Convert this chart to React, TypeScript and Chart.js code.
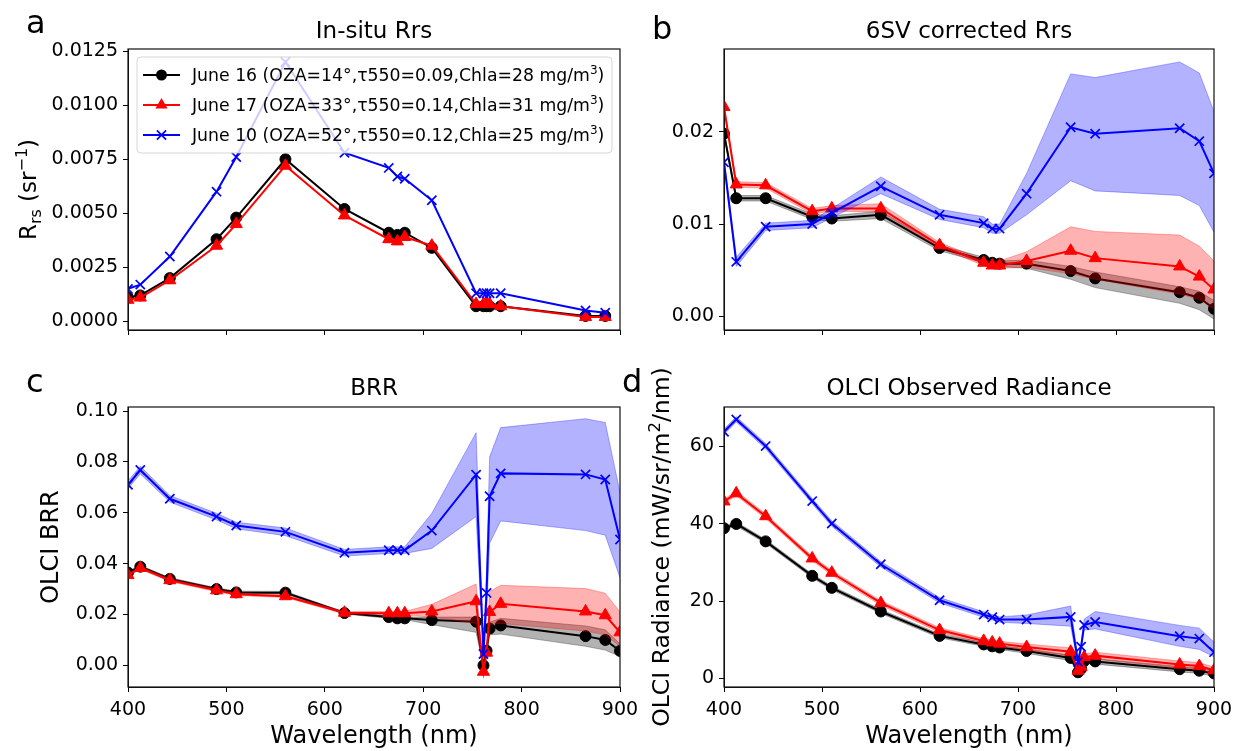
import React, { useEffect, useRef } from 'react';
import { Chart, registerables } from 'chart.js';

Chart.register(...registerables);

const FONT = "'DejaVu Sans', sans-serif";

// ---------- wavelengths (nm) ----------
const WL_INSITU = [400, 412.5, 442.5, 490, 510, 560, 620, 665, 673.75, 681.25, 708.75, 753.75, 761.25, 764.375, 767.5, 778.75, 865, 885];
const WL_6SV = [400, 412.5, 442.5, 490, 510, 560, 620, 665, 673.75, 681.25, 708.75, 753.75, 778.75, 865, 885, 900];
const WL_OLCI = [400, 412.5, 442.5, 490, 510, 560, 620, 665, 673.75, 681.25, 708.75, 753.75, 761.25, 764.375, 767.5, 778.75, 865, 885, 900];

const X_TICKS = [400, 500, 600, 700, 800, 900];

// ---------- legend labels ----------
const LEGEND_LABELS = [
  ['June 16 (OZA=14°,τ550=0.09,Chla=28 mg/m', '3', ')'],
  ['June 17 (OZA=33°,τ550=0.14,Chla=31 mg/m', '3', ')'],
  ['June 10 (OZA=52°,τ550=0.12,Chla=25 mg/m', '3', ')'],
];

// ---------- (a) in-situ Rrs ----------
const insitu16 = [0.0011, 0.0012, 0.0020, 0.0038, 0.0048, 0.0075, 0.0052, 0.0041, 0.0040, 0.0041, 0.0034, 0.0007, 0.0007, 0.0007, 0.0007, 0.0007, 0.00025, 0.00025];
const insitu17 = [0.0010, 0.0011, 0.0019, 0.0035, 0.0045, 0.0072, 0.0049, 0.0038, 0.0037, 0.0039, 0.0035, 0.0008, 0.0008, 0.0008, 0.0008, 0.0007, 0.0002, 0.0002];
const insitu10 = [0.0015, 0.0017, 0.0030, 0.0060, 0.0076, 0.0120, 0.0078, 0.0071, 0.0067, 0.0066, 0.0056, 0.0013, 0.0013, 0.0013, 0.0013, 0.0013, 0.0005, 0.0004];

// ---------- (b) 6SV corrected Rrs ----------
const sv16 = [0.0198, 0.0128, 0.0128, 0.0108, 0.0106, 0.0110, 0.0074, 0.0061, 0.0058, 0.0057, 0.0057, 0.0049, 0.0041, 0.0026, 0.0020, 0.0008];
const sv16lo = [0.0195, 0.0125, 0.0125, 0.0105, 0.0103, 0.0106, 0.0071, 0.0058, 0.0055, 0.0054, 0.0052, 0.0040, 0.0031, 0.0014, 0.0007, -0.0003];
const sv16hi = [0.0201, 0.0131, 0.0131, 0.0111, 0.0109, 0.0114, 0.0077, 0.0064, 0.0061, 0.0060, 0.0061, 0.0054, 0.0048, 0.0032, 0.0027, 0.0017];
const sv17 = [0.0227, 0.0143, 0.0142, 0.0114, 0.0117, 0.0117, 0.0077, 0.0058, 0.0055, 0.0055, 0.0060, 0.0071, 0.0063, 0.0054, 0.0043, 0.0029];
const sv17lo = [0.0224, 0.0140, 0.0139, 0.0111, 0.0114, 0.0113, 0.0074, 0.0055, 0.0052, 0.0052, 0.0053, 0.0046, 0.0040, 0.0024, 0.0018, 0.0008];
const sv17hi = [0.0230, 0.0146, 0.0145, 0.0117, 0.0120, 0.0122, 0.0080, 0.0061, 0.0058, 0.0060, 0.0070, 0.0097, 0.0092, 0.0088, 0.0076, 0.0060];
const sv10 = [0.0167, 0.0059, 0.0097, 0.0100, 0.0112, 0.0141, 0.0110, 0.0101, 0.0095, 0.0095, 0.0133, 0.0205, 0.0198, 0.0204, 0.0190, 0.0155];
const sv10lo = [0.0162, 0.0054, 0.0093, 0.0096, 0.0107, 0.0133, 0.0105, 0.0096, 0.0090, 0.0090, 0.0110, 0.0147, 0.0136, 0.0131, 0.0120, 0.0091];
const sv10hi = [0.0172, 0.0064, 0.0101, 0.0104, 0.0117, 0.0151, 0.0116, 0.0108, 0.0100, 0.0100, 0.0155, 0.0263, 0.0259, 0.0276, 0.0264, 0.0222];

// ---------- (c) BRR ----------
const brr16 = [0.0365, 0.0388, 0.0340, 0.0300, 0.0287, 0.0286, 0.0206, 0.0190, 0.0185, 0.0185, 0.0178, 0.0172, 0.0000, 0.0058, 0.0145, 0.0157, 0.0115, 0.0100, 0.0057];
const brr16lo = [0.0360, 0.0383, 0.0335, 0.0295, 0.0282, 0.0281, 0.0202, 0.0185, 0.0180, 0.0180, 0.0160, 0.0130, -0.0005, 0.0050, 0.0120, 0.0123, 0.0075, 0.0060, 0.0035];
const brr16hi = [0.0370, 0.0393, 0.0345, 0.0305, 0.0292, 0.0291, 0.0210, 0.0195, 0.0190, 0.0190, 0.0190, 0.0190, 0.0005, 0.0066, 0.0170, 0.0185, 0.0155, 0.0140, 0.0085];
const brr17 = [0.0355, 0.0383, 0.0335, 0.0295, 0.0280, 0.0272, 0.0207, 0.0205, 0.0205, 0.0205, 0.0212, 0.0252, -0.0025, 0.0050, 0.0210, 0.0242, 0.0212, 0.0197, 0.0130];
const brr17lo = [0.0350, 0.0378, 0.0330, 0.0290, 0.0275, 0.0267, 0.0202, 0.0198, 0.0198, 0.0198, 0.0190, 0.0165, -0.0030, 0.0043, 0.0160, 0.0165, 0.0135, 0.0120, 0.0075];
const brr17hi = [0.0360, 0.0388, 0.0340, 0.0300, 0.0285, 0.0277, 0.0212, 0.0212, 0.0212, 0.0212, 0.0240, 0.0320, -0.0020, 0.0057, 0.0290, 0.0315, 0.0302, 0.0284, 0.0210];
const brr10 = [0.0710, 0.0768, 0.0655, 0.0585, 0.0550, 0.0525, 0.0443, 0.0453, 0.0453, 0.0453, 0.0530, 0.0750, 0.0045, 0.0285, 0.0665, 0.0755, 0.0751, 0.0731, 0.0495];
const brr10lo = [0.0695, 0.0753, 0.0642, 0.0572, 0.0537, 0.0510, 0.0430, 0.0440, 0.0440, 0.0440, 0.0460, 0.0585, 0.0030, 0.0200, 0.0480, 0.0568, 0.0530, 0.0512, 0.0345];
const brr10hi = [0.0725, 0.0783, 0.0668, 0.0598, 0.0563, 0.0540, 0.0456, 0.0466, 0.0466, 0.0466, 0.0598, 0.0915, 0.0060, 0.0370, 0.0820, 0.0935, 0.0970, 0.0955, 0.0680];

// ---------- (d) OLCI observed radiance ----------
const rad16 = [38.8, 39.9, 35.4, 26.5, 23.4, 17.3, 11.0, 8.8, 8.3, 8.0, 7.1, 5.3, 1.6, 2.5, 4.5, 4.4, 2.4, 2.0, 1.3];
const rad16lo = [38.3, 39.4, 34.9, 26.0, 22.9, 16.8, 10.5, 8.3, 7.8, 7.5, 6.5, 4.6, 1.2, 2.0, 3.9, 3.7, 1.7, 1.3, 0.6];
const rad16hi = [39.3, 40.4, 35.9, 27.0, 23.9, 17.8, 11.5, 9.3, 8.8, 8.5, 7.7, 6.0, 2.0, 3.0, 5.1, 5.1, 3.1, 2.7, 2.0];
const rad17 = [45.7, 47.8, 41.9, 31.0, 27.3, 19.5, 12.5, 9.7, 9.3, 9.0, 8.1, 6.9, 2.0, 3.0, 5.5, 5.9, 3.6, 3.2, 2.1];
const rad17lo = [45.1, 47.2, 41.3, 30.4, 26.7, 18.9, 11.9, 9.1, 8.7, 8.4, 7.3, 5.9, 1.5, 2.4, 4.7, 5.0, 2.7, 2.3, 1.3];
const rad17hi = [46.3, 48.4, 42.5, 31.6, 27.9, 20.1, 13.1, 10.3, 9.9, 9.6, 8.9, 7.9, 2.5, 3.6, 6.3, 6.8, 4.5, 4.1, 2.9];
const rad10 = [63.7, 66.9, 60.0, 45.8, 40.0, 29.5, 20.2, 16.5, 15.8, 15.2, 15.2, 15.9, 4.3, 8.2, 13.8, 14.6, 10.9, 10.3, 6.8];
const rad10lo = [63.0, 66.2, 59.3, 45.1, 39.3, 28.8, 19.5, 15.8, 15.1, 14.5, 14.2, 13.5, 3.6, 7.4, 12.5, 12.8, 8.3, 7.5, 5.6];
const rad10hi = [64.4, 67.6, 60.7, 46.5, 40.7, 30.2, 20.9, 17.2, 16.5, 15.9, 16.4, 18.7, 5.0, 9.0, 15.3, 17.3, 13.7, 13.0, 9.4];

// ---------- styling ----------
const BLACK = '#000000';
const RED = '#ff0000';
const BLUE = '#0000ff';
const BLACK_BAND = 'rgba(0,0,0,0.3)';
const RED_BAND = 'rgba(255,0,0,0.3)';
const BLUE_BAND = 'rgba(0,0,255,0.3)';

type Marker = 'circle' | 'triangle' | 'crossRot';
type Series = { color: string; band: string; marker: Marker; y: number[]; lo?: number[]; hi?: number[] };
type Seg = { t: string; size: number; dy?: number };

type Panel = {
  x: number[];
  series: Series[];
  box: { l: number; t: number; r: number; b: number };
  yMin: number; yMax: number; yStep: number; yDec: number;
  xLabels: boolean;
  title: string; titleY: number;
  letter: string; letterX: number; letterY: number;
  ylabel: Seg[]; ylabelX: number;
  legend?: boolean;
};

const markerRadius = (m: Marker) => (m === 'circle' ? 5.5 : m === 'triangle' ? 7 : 6.5);

function buildDatasets(x: number[], series: Series[]) {
  const ds: any[] = [];
  series.forEach((s, i) => {
    const base = (series.length - i) * 10;
    if (s.lo && s.hi) {
      ds.push({
        data: x.map((xv, k) => ({ x: xv, y: s.hi![k] })),
        borderColor: s.band, backgroundColor: s.band, borderWidth: 1,
        pointRadius: 0, fill: '+1', order: base + 2, clip: 0,
      });
      ds.push({
        data: x.map((xv, k) => ({ x: xv, y: s.lo![k] })),
        borderColor: s.band, backgroundColor: s.band, borderWidth: 1,
        pointRadius: 0, fill: false, order: base + 1, clip: 0,
      });
    }
    ds.push({
      data: x.map((xv, k) => ({ x: xv, y: s.y[k] })),
      borderColor: s.color, backgroundColor: s.color, borderWidth: 2,
      pointStyle: s.marker, pointRadius: markerRadius(s.marker),
      pointBorderWidth: s.marker === 'crossRot' ? 1.7 : 1,
      pointBackgroundColor: s.color, pointBorderColor: s.color,
      fill: false, order: base, clip: 0,
    });
  });
  return ds;
}

function drawRich(ctx: CanvasRenderingContext2D, segs: Seg[], x: number, y: number, rotate: boolean, align: 'center' | 'left') {
  ctx.save();
  ctx.translate(x, y);
  if (rotate) ctx.rotate(-Math.PI / 2);
  ctx.textBaseline = 'alphabetic';
  ctx.textAlign = 'left';
  ctx.fillStyle = '#000';
  const widths = segs.map((s) => {
    ctx.font = `${s.size}px ${FONT}`;
    return ctx.measureText(s.t).width;
  });
  const total = widths.reduce((a, b) => a + b, 0);
  let cx = align === 'center' ? -total / 2 : 0;
  segs.forEach((s, i) => {
    ctx.font = `${s.size}px ${FONT}`;
    ctx.fillText(s.t, cx, s.dy || 0);
    cx += widths[i];
  });
  ctx.restore();
}

function drawMarker(ctx: CanvasRenderingContext2D, m: Marker, color: string, x: number, y: number) {
  ctx.save();
  ctx.fillStyle = color;
  ctx.strokeStyle = color;
  if (m === 'circle') {
    ctx.beginPath();
    ctx.arc(x, y, 5.5, 0, Math.PI * 2);
    ctx.fill();
  } else if (m === 'triangle') {
    const r = 7;
    ctx.beginPath();
    ctx.moveTo(x, y - r);
    ctx.lineTo(x + r * 0.866, y + r * 0.5);
    ctx.lineTo(x - r * 0.866, y + r * 0.5);
    ctx.closePath();
    ctx.fill();
  } else {
    const r = 6.5 * 0.7071;
    ctx.lineWidth = 1.7;
    ctx.beginPath();
    ctx.moveTo(x - r, y - r); ctx.lineTo(x + r, y + r);
    ctx.moveTo(x - r, y + r); ctx.lineTo(x + r, y - r);
    ctx.stroke();
  }
  ctx.restore();
}

const LEGEND_STYLE: { color: string; marker: Marker }[] = [
  { color: BLACK, marker: 'circle' },
  { color: RED, marker: 'triangle' },
  { color: BLUE, marker: 'crossRot' },
];

function drawLegend(ctx: CanvasRenderingContext2D) {
  const x0 = 137, y0 = 57, w = 475, h = 96, r = 4;
  ctx.save();
  ctx.beginPath();
  ctx.moveTo(x0 + r, y0);
  ctx.arcTo(x0 + w, y0, x0 + w, y0 + h, r);
  ctx.arcTo(x0 + w, y0 + h, x0, y0 + h, r);
  ctx.arcTo(x0, y0 + h, x0, y0, r);
  ctx.arcTo(x0, y0, x0 + w, y0, r);
  ctx.closePath();
  ctx.fillStyle = 'rgba(255,255,255,0.8)';
  ctx.fill();
  ctx.strokeStyle = 'rgba(204,204,204,0.8)';
  ctx.lineWidth = 1;
  ctx.stroke();
  LEGEND_LABELS.forEach((lab, i) => {
    const yy = 75 + i * 30;
    const st = LEGEND_STYLE[i];
    ctx.strokeStyle = st.color;
    ctx.lineWidth = 2;
    ctx.beginPath();
    ctx.moveTo(143, yy);
    ctx.lineTo(180, yy);
    ctx.stroke();
    drawMarker(ctx, st.marker, st.color, 161.5, yy);
    drawRich(ctx, [
      { t: lab[0], size: 17.3 },
      { t: lab[1], size: 12, dy: -7.5 },
      { t: lab[2], size: 17.3 },
    ], 192, yy + 6, false, 'left');
  });
  ctx.restore();
}

const PANELS: Panel[] = [
  {
    x: WL_INSITU,
    series: [
      { color: BLACK, band: BLACK_BAND, marker: 'circle', y: insitu16 },
      { color: RED, band: RED_BAND, marker: 'triangle', y: insitu17 },
      { color: BLUE, band: BLUE_BAND, marker: 'crossRot', y: insitu10 },
    ],
    box: { l: 128, t: 49, r: 620, b: 330 },
    yMin: -0.0004, yMax: 0.0126, yStep: 0.0025, yDec: 4,
    xLabels: false,
    title: 'In-situ Rrs', titleY: 38,
    letter: 'a', letterX: 26, letterY: 33,
    ylabel: [
      { t: 'R', size: 23 },
      { t: 'rs', size: 16, dy: 5 },
      { t: ' (sr', size: 23 },
      { t: '−1', size: 16, dy: -9.5 },
      { t: ')', size: 23 },
    ],
    ylabelX: 36,
    legend: true,
  },
  {
    x: WL_6SV,
    series: [
      { color: BLACK, band: BLACK_BAND, marker: 'circle', y: sv16, lo: sv16lo, hi: sv16hi },
      { color: RED, band: RED_BAND, marker: 'triangle', y: sv17, lo: sv17lo, hi: sv17hi },
      { color: BLUE, band: BLUE_BAND, marker: 'crossRot', y: sv10, lo: sv10lo, hi: sv10hi },
    ],
    box: { l: 724, t: 49, r: 1214, b: 330 },
    yMin: -0.0015, yMax: 0.029, yStep: 0.01, yDec: 2,
    xLabels: false,
    title: '6SV corrected Rrs', titleY: 38,
    letter: 'b', letterX: 652, letterY: 39,
    ylabel: [],
    ylabelX: 0,
  },
  {
    x: WL_OLCI,
    series: [
      { color: BLACK, band: BLACK_BAND, marker: 'circle', y: brr16, lo: brr16lo, hi: brr16hi },
      { color: RED, band: RED_BAND, marker: 'triangle', y: brr17, lo: brr17lo, hi: brr17hi },
      { color: BLUE, band: BLUE_BAND, marker: 'crossRot', y: brr10, lo: brr10lo, hi: brr10hi },
    ],
    box: { l: 128, t: 407, r: 620, b: 687 },
    yMin: -0.0085, yMax: 0.1016, yStep: 0.02, yDec: 2,
    xLabels: true,
    title: 'BRR', titleY: 395,
    letter: 'c', letterX: 26, letterY: 392,
    ylabel: [{ t: 'OLCI BRR', size: 24 }],
    ylabelX: 58,
  },
  {
    x: WL_OLCI,
    series: [
      { color: BLACK, band: BLACK_BAND, marker: 'circle', y: rad16, lo: rad16lo, hi: rad16hi },
      { color: RED, band: RED_BAND, marker: 'triangle', y: rad17, lo: rad17lo, hi: rad17hi },
      { color: BLUE, band: BLUE_BAND, marker: 'crossRot', y: rad10, lo: rad10lo, hi: rad10hi },
    ],
    box: { l: 724, t: 407, r: 1214, b: 687 },
    yMin: -2.2, yMax: 70.1, yStep: 20, yDec: 0,
    xLabels: true,
    title: 'OLCI Observed Radiance', titleY: 395,
    letter: 'd', letterX: 622, letterY: 392,
    ylabel: [
      { t: 'OLCI Radiance (mW/sr/m', size: 23.5 },
      { t: '2', size: 16.5, dy: -9.5 },
      { t: '/nm)', size: 23.5 },
    ],
    ylabelX: 669,
  },
];

const W = 1241;
const H = 751;
const YAXIS_W = 100;
const XAXIS_H = 40;

function makeChart(canvas: HTMLCanvasElement, p: Panel) {
  const { box } = p;
  const decorations = {
    id: 'decorations',
    afterDatasetsDraw(chart: any) {
      const ctx: CanvasRenderingContext2D = chart.ctx;
      const a = chart.chartArea;
      ctx.save();
      ctx.strokeStyle = '#111';
      ctx.lineWidth = 1.2;
      ctx.strokeRect(a.left, a.top, a.right - a.left, a.bottom - a.top);
      ctx.restore();
      if (p.legend) drawLegend(ctx);
    },
    afterDraw(chart: any) {
      const ctx: CanvasRenderingContext2D = chart.ctx;
      const a = chart.chartArea;
      const cx = (a.left + a.right) / 2;
      const cy = (a.top + a.bottom) / 2;
      drawRich(ctx, [{ t: p.title, size: 23 }], cx, p.titleY, false, 'center');
      drawRich(ctx, [{ t: p.letter, size: 32 }], p.letterX, p.letterY, false, 'left');
      if (p.ylabel.length) drawRich(ctx, p.ylabel, p.ylabelX, cy, true, 'center');
      if (p.xLabels) drawRich(ctx, [{ t: 'Wavelength (nm)', size: 24 }], cx, 743, false, 'center');
    },
  };

  return new Chart(canvas, {
    type: 'line',
    data: { datasets: buildDatasets(p.x, p.series) },
    options: {
      responsive: false,
      animation: false,
      devicePixelRatio: 1,
      events: [],
      layout: {
        padding: {
          left: box.l - YAXIS_W,
          top: box.t,
          right: W - box.r,
          bottom: H - box.b - XAXIS_H,
        },
      },
      plugins: {
        legend: { display: false },
        tooltip: { enabled: false },
        title: { display: false },
      },
      elements: { line: { tension: 0 } },
      scales: {
        x: {
          type: 'linear',
          min: X_TICKS[0],
          max: X_TICKS[X_TICKS.length - 1],
          afterFit: (s: any) => { s.height = XAXIS_H; },
          afterBuildTicks: (s: any) => { s.ticks = X_TICKS.map((v) => ({ value: v })); },
          ticks: {
            callback: (v: any) => (p.xLabels ? String(Math.round(Number(v))) : ''),
            font: { family: FONT, size: 19 },
            color: '#000',
            padding: 7,
            maxRotation: 0,
            autoSkip: false,
          },
          grid: { drawOnChartArea: false, drawTicks: true, tickLength: 5, color: '#000', tickWidth: 1 },
          border: { display: true, color: '#111', width: 1 },
        },
        y: {
          type: 'linear',
          min: p.yMin,
          max: p.yMax,
          afterFit: (s: any) => { s.width = YAXIS_W; },
          ticks: {
            stepSize: p.yStep,
            includeBounds: false,
            callback: (v: any) => Number(v).toFixed(p.yDec),
            font: { family: FONT, size: 19 },
            color: '#000',
            padding: 5,
            autoSkip: false,
          },
          grid: { drawOnChartArea: false, drawTicks: true, tickLength: 5, color: '#000', tickWidth: 1 },
          border: { display: true, color: '#111', width: 1 },
        },
      },
    } as any,
    plugins: [decorations],
  });
}

export default function App() {
  const refs = useRef<(HTMLCanvasElement | null)[]>([]);

  useEffect(() => {
    const charts = PANELS.map((p, i) => makeChart(refs.current[i] as HTMLCanvasElement, p));
    return () => charts.forEach((c) => c.destroy());
  }, []);

  return (
    <div style={{ position: 'absolute', left: 0, top: 0, width: W, height: H, background: '#fff' }}>
      {PANELS.map((_, i) => (
        <canvas
          key={i}
          ref={(el) => { refs.current[i] = el; }}
          width={W}
          height={H}
          style={{ position: 'absolute', left: 0, top: 0 }}
        />
      ))}
    </div>
  );
}
